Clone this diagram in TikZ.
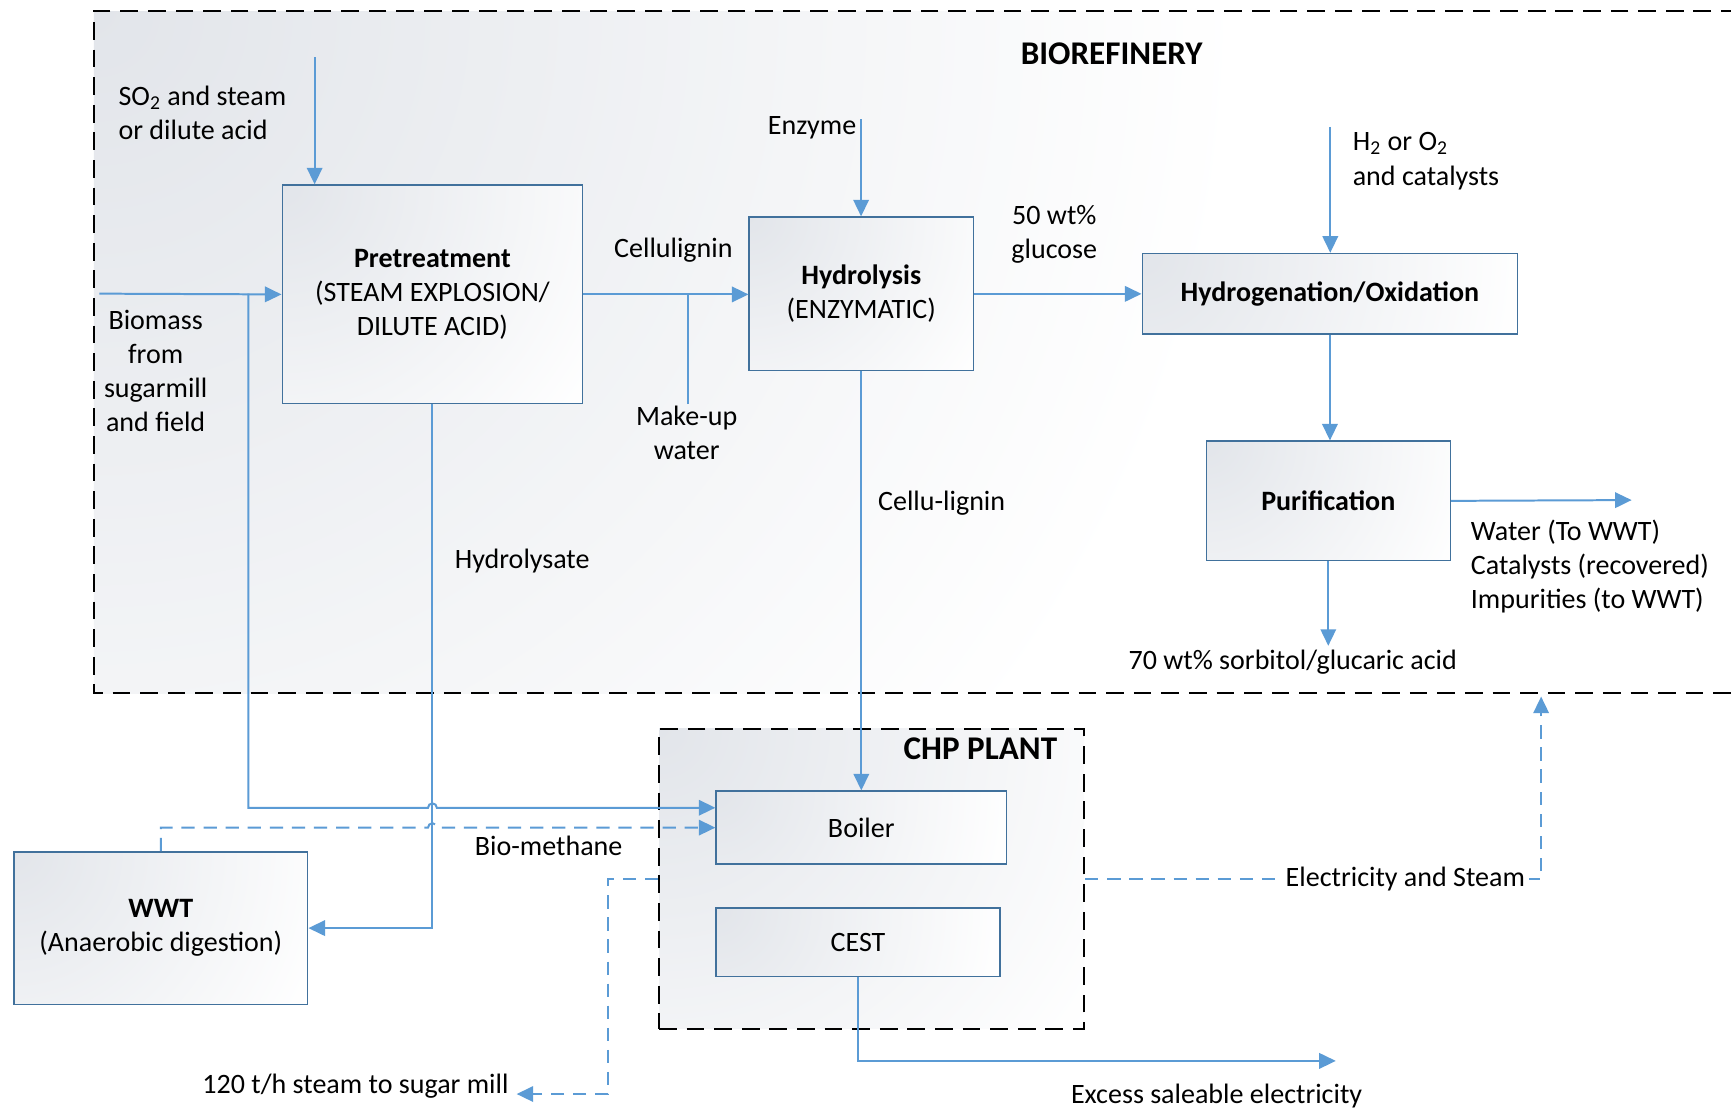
\documentclass[tikz,border=0pt]{standalone}
\usepackage{fontspec}
\setmainfont{Carlito}
\usetikzlibrary{arrows.meta,calc}
\definecolor{flow}{HTML}{5B9BD5}
\definecolor{edge}{HTML}{41719C}
\definecolor{shadegray}{HTML}{E2E5EA}
\begin{document}
\begin{tikzpicture}[x=0.5pt,y=-0.5pt,
 font=\fontsize{12.7}{15.5}\selectfont,
 fade/.style={inner color=shadegray, outer color=white},
 grad/.style={fill=white, path picture={\shade[fade] (path picture bounding box.north west) circle[radius=#1];}},
 box/.style={draw=edge, line width=0.7pt, anchor=north west, align=center, inner sep=0pt},
 flowline/.style={draw=flow, line width=0.9pt},
 arr/.style={flowline, -{Triangle[length=7.5pt,width=7pt]}},
 dflow/.style={flowline, dash pattern=on 6pt off 4pt},
 darr/.style={dflow, -{Triangle[length=7.5pt,width=7pt]}},
 region/.style={draw=black, line width=1pt, dash pattern=on 8pt off 4.5pt},
 lbl/.style={inner sep=1pt, align=center},
 title/.style={inner sep=1pt, font=\fontsize{15}{18}\selectfont\bfseries}
]
\clip (0,0) rectangle (1568,1005);
\fill[white] (0,0) rectangle (1568,1005);
% biorefinery region
\begin{scope}
\clip (85,10) rectangle (1700,628);
\shade[fade] (85,10) circle[radius=520pt];
\end{scope}
\draw[region] (1700,10) -- (85,10) -- (85,628) -- (1700,628);
\node[title] (biot) at (1007,49) {BIOREFINERY};
% CHP region
\node[region, grad=236pt, anchor=north west, minimum width=192.5pt, minimum height=136pt, inner sep=0pt] (chp) at (596,659) {};
\node[title, anchor=east] (chpt) at (960,678) {CHP PLANT};
% boxes
\node[box, grad=170pt, minimum width=136pt, minimum height=99pt] (pre) at (255,167) {\textbf{Pretreatment}\\(STEAM EXPLOSION/\\DILUTE ACID)};
\node[box, grad=125pt, minimum width=101.5pt, minimum height=69.5pt] (hyd) at (678,196) {\textbf{Hydrolysis}\\(ENZYMATIC)};
\node[box, grad=175pt, minimum width=170pt, minimum height=36.5pt] (hgo) at (1034,229) {\textbf{Hydrogenation/Oxidation}};
\node[box, grad=125pt, minimum width=110.5pt, minimum height=54pt] (pur) at (1092,399) {\textbf{Purification}};
\node[box, grad=136pt, minimum width=131.5pt, minimum height=33pt] (boil) at (648,716) {Boiler};
\node[box, grad=132pt, minimum width=128.5pt, minimum height=31pt] (cest) at (648,822) {CEST};
\node[box, grad=150pt, minimum width=133pt, minimum height=69pt] (wwt) at (12,771) {\textbf{WWT}\\(Anaerobic digestion)};
% free ends
\coordinate (bin) at (90,266);
\coordinate (bsplit) at (225,266);
\coordinate (so2) at (285,52);
\coordinate (enz) at (780,108);
\coordinate (h2) at (1205,115);
\coordinate (mu) at (623,366);
\coordinate (purout) at (1478,453);
\coordinate (prod) at (1204,585);
\coordinate (mill) at (468,991);
\coordinate (esend) at (1396,631);
\coordinate (elec) at (1210,961);
% connectors
\draw[arr] (bin) -- (pre.west);
\draw[arr] (bsplit) |- ($(pre.south |- boil.west)+(-4,-18)$) arc[start angle=180,end angle=0,radius=2pt] -- ($(boil.west)+(0,-18)$);
\draw[darr] (wwt.north) |- ($(pre.south |- boil.west)+(-4,0)$) arc[start angle=180,end angle=0,radius=2pt] -- (boil.west);
\draw[arr] (pre.south) |- (wwt.east);
\draw[arr] (so2) -- (so2 |- pre.north);
\draw[arr] (pre.east) -- (pre.east -| hyd.west);
\draw[flowline] (mu) -- (mu |- pre.east);
\draw[arr] (enz) -- (enz |- hyd.north);
\draw[arr] (hyd.east) -- (hyd.east -| hgo.west);
\draw[arr] (h2) -- (h2 |- hgo.north);
\draw[arr] (hgo.south) -- (hgo.south |- pur.north);
\draw[arr] (pur.east) -- (purout);
\draw[arr] (pur.south) -- (pur.south |- prod);
\draw[arr] (hyd.south) -- (hyd.south |- boil.north);
\draw[arr] (cest.south) |- (elec);
\draw[darr] (chp.west) -- ++(-45,0) |- (mill);
\draw[darr] (chp.east) -| (esend);
% labels
\node[lbl, anchor=west, align=left] (l1) at (105,102) {SO\textsubscript{2} and steam\\or dilute acid};
\node[lbl] (l2) at (141,336) {Biomass\\from\\sugarmill\\and field};
\node[lbl] (l3) at (610,227) {Cellulignin};
\node[lbl] (l4) at (622,392) {Make-up\\water};
\node[lbl, anchor=east] (l5) at (778,116) {Enzyme};
\node[lbl] (l6) at (955,212) {50 wt\%\\glucose};
\node[lbl, anchor=west, align=left] (l7) at (1223,146) {H\textsubscript{2} or O\textsubscript{2}\\and catalysts};
\node[lbl, anchor=west, align=left] (l8) at (1330,513) {Water (To WWT)\\Catalysts (recovered)\\Impurities (to WWT)};
\node[lbl] (l9) at (1171,600) {70 wt\% sorbitol/glucaric acid};
\node[lbl] (l10) at (473,508) {Hydrolysate};
\node[lbl] (l11) at (853,456) {Cellu-lignin};
\node[lbl] (l12) at (497,766) {Bio-methane};
\node[lbl, anchor=east] (l13) at (463,984) {120 t/h steam to sugar mill};
\node[lbl, fill=white, inner sep=2pt] (l14) at (1273,796) {Electricity and Steam};
\node[lbl] (l15) at (1102,993) {Excess saleable electricity};
\end{tikzpicture}
\end{document}
